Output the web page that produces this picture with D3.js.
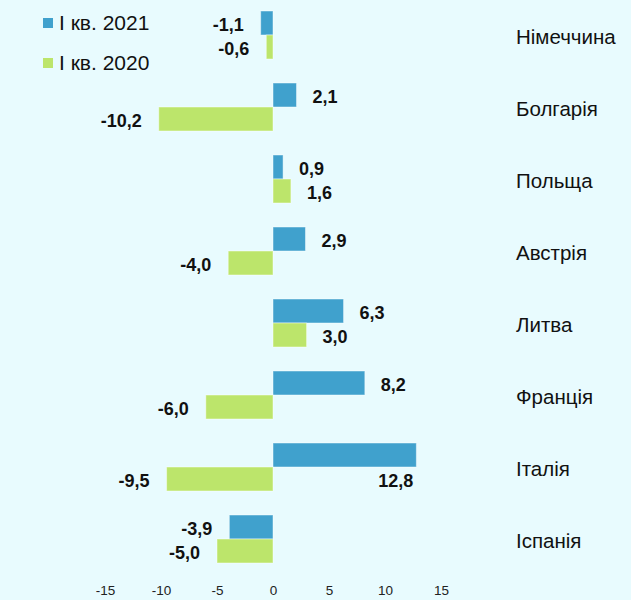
<!DOCTYPE html>
<html lang="uk">
<head>
<meta charset="UTF-8">
<title>І кв. 2021 vs І кв. 2020</title>
<script src="https://d3js.org/d3.v7.min.js"></script>
<style>
  body { margin: 0; background: #e8fbfe; }
  svg { display: block; }
  svg text { font-family: "Liberation Sans", Arial, sans-serif; }
</style>
</head>
<body>
<svg id="chart" width="631" height="600"></svg>
<script>
// --- дані ---
const countries = ["Німеччина", "Болгарія", "Польща", "Австрія", "Литва", "Франція", "Італія", "Іспанія"];
const q1_2021 = [-1.1, 2.1, 0.9, 2.9, 6.3, 8.2, 12.8, -3.9];
const q1_2020 = [-0.6, -10.2, 1.6, -4.0, 3.0, -6.0, -9.5, -5.0];
const seriesNames = ["І кв. 2021", "І кв. 2020"];
const seriesColors = ["#40a1cd", "#bce56b"];
const xTicks = [-15, -10, -5, 0, 5, 10, 15];

const svg = d3.select("#chart");

const x = d3.scaleLinear().domain([-15, 15]).range([105, 441]);
const y = d3.scaleBand().domain(countries).range([-1, 575]).paddingInner(24 / 72).paddingOuter(12 / 72);
const sub = d3.scaleBand().domain([0, 1]).range([0, y.bandwidth()]);

const rows = countries.map((c, i) => ({ c, vals: [q1_2021[i], q1_2020[i]] }));
const fmt = v => v.toFixed(1).replace(".", ",");

const g = svg.selectAll("g.row").data(rows).join("g")
  .attr("class", "row")
  .attr("transform", d => `translate(0,${y(d.c)})`);

g.selectAll("rect").data(d => d.vals.map((v, k) => ({ v, k }))).join("rect")
  .attr("x", d => x(Math.min(0, d.v)))
  .attr("y", d => sub(d.k))
  .attr("width", d => Math.abs(x(d.v) - x(0)))
  .attr("height", sub.bandwidth())
  .attr("fill", d => seriesColors[d.k])
  .attr("stroke", "rgba(255,255,255,0.45)")
  .attr("stroke-width", 1);

// підписи значень
g.selectAll("text.val").data(d => d.vals.map((v, k) => ({ v, k }))).join("text")
  .attr("class", "val")
  .attr("font-size", 18)
  .attr("font-weight", "bold")
  .attr("fill", "#111")
  .attr("dy", "0.35em")
  .each(function(d) {
    const t = d3.select(this).text(fmt(d.v));
    if (d.v > 10) {
      // довгий стовпчик: підпис під ним, біля кінця
      t.attr("x", x(d.v) - 3).attr("y", sub(d.k) + sub.bandwidth() * 1.5 + 2).attr("text-anchor", "end");
    } else if (d.v >= 0) {
      t.attr("x", x(d.v) + 16).attr("y", sub(d.k) + sub.bandwidth() / 2 + 2).attr("text-anchor", "start");
    } else {
      t.attr("x", x(d.v) - 17).attr("y", sub(d.k) + sub.bandwidth() / 2 + 2).attr("text-anchor", "end");
    }
  });

// назви країн
g.append("text")
  .attr("x", 516)
  .attr("y", y.bandwidth() / 2 + 2)
  .attr("dy", "0.35em")
  .attr("font-size", 20.5)
  .attr("fill", "#111")
  .text(d => d.c);

// вісь X
const axis = svg.append("g").attr("transform", "translate(0,585)")
  .call(d3.axisBottom(x).tickValues(xTicks).tickSize(0).tickPadding(0).tickFormat(d => String(d)));
axis.select(".domain").remove();
axis.selectAll("text").attr("font-size", 13.5).attr("fill", "#222")
  .attr("dy", "0.71em");

// легенда
const leg = svg.append("g").selectAll("g").data(seriesNames).join("g")
  .attr("transform", (d, i) => `translate(43,${18 + i * 40})`);
leg.append("rect").attr("width", 10).attr("height", 10).attr("fill", (d, i) => seriesColors[i]);
leg.append("text").attr("x", 16).attr("y", 5).attr("dy", "0.35em")
  .attr("font-size", 21).attr("fill", "#111").text(d => d);
</script>
</body>
</html>
